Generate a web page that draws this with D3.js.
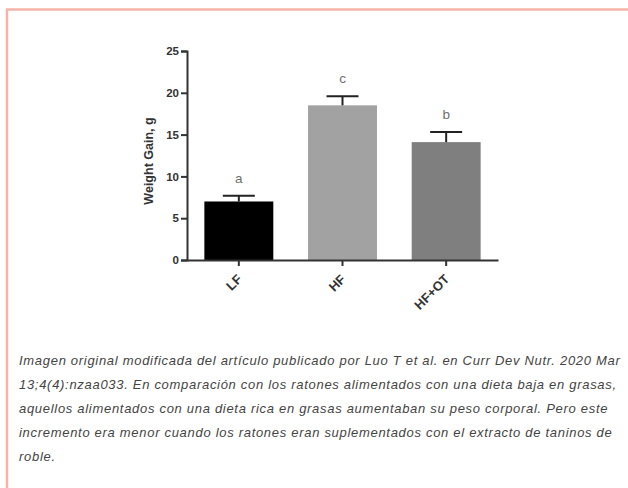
<!DOCTYPE html>
<html>
<head>
<meta charset="utf-8">
<script src="https://cdn.jsdelivr.net/npm/d3@7"></script>
<style>
  body { margin: 0; background: #fff; }
  svg { display: block; }
</style>
</head>
<body>
<div id="chart"></div>
<script>
    // data
    var groups = ["LF", "HF", "HF+OT"];
    var means = [7.0, 18.5, 14.1];
    var errors = [0.7, 1.1, 1.2];
    var letters = ["a", "c", "b"];
    var barColors = ["#000000", "#a2a2a2", "#7f7f7f"];
    var yTicks = [0, 5, 10, 15, 20, 25];
    var caption = [
        "Imagen original modificada del artículo publicado por Luo T et al. en Curr Dev Nutr. 2020 Mar",
        "13;4(4):nzaa033. En comparación con los ratones alimentados con una dieta baja en grasas,",
        "aquellos alimentados con una dieta rica en grasas aumentaban su peso corporal. Pero este",
        "incremento era menor cuando los ratones eran suplementados con el extracto de taninos de",
        "roble."
    ];

    var width = 628,
        height = 488;
    var font = "Liberation Sans, Arial, sans-serif";

    var svg = d3.select("#chart")
        .append("svg")
        .attr("width", width)
        .attr("height", height);

    // pink frame (top and left edge)
    svg.append("path")
        .attr("d", "M7," + height + "V9.5H" + width)
        .attr("fill", "none")
        .attr("stroke", "#f6b4a9")
        .attr("stroke-width", 2.5);

    var x = d3.scaleBand()
        .domain(groups)
        .range([187, 498])
        .paddingInner(0.335)
        .paddingOuter(0.1675);

    var y = d3.scaleLinear()
        .domain([0, 25])
        .range([260, 51]);

    var data = groups.map(function (g, i) {
        return { name: g, mean: means[i], err: errors[i], letter: letters[i], color: barColors[i] };
    });

    function cx(d) { return x(d.name) + x.bandwidth() / 2; }

    // bars
    svg.selectAll("rect.bar")
        .data(data)
        .enter().append("rect")
        .attr("class", "bar")
        .attr("x", function (d) { return x(d.name); })
        .attr("y", function (d) { return y(d.mean); })
        .attr("width", x.bandwidth())
        .attr("height", function (d) { return y(0) - y(d.mean); })
        .attr("fill", function (d) { return d.color; });

    // error bars (upper only)
    var eb = svg.selectAll("g.err")
        .data(data)
        .enter().append("g")
        .attr("class", "err")
        .attr("stroke", "#222")
        .attr("stroke-width", 2);
    eb.append("line")
        .attr("x1", cx)
        .attr("x2", cx)
        .attr("y1", function (d) { return y(d.mean); })
        .attr("y2", function (d) { return y(d.mean + d.err); });
    eb.append("line")
        .attr("x1", function (d) { return cx(d) - 16; })
        .attr("x2", function (d) { return cx(d) + 16; })
        .attr("y1", function (d) { return y(d.mean + d.err); })
        .attr("y2", function (d) { return y(d.mean + d.err); });

    // significance letters
    svg.selectAll("text.letter")
        .data(data)
        .enter().append("text")
        .attr("class", "letter")
        .attr("x", cx)
        .attr("y", function (d) { return y(d.mean + d.err) - 13; })
        .attr("text-anchor", "middle")
        .attr("font-family", font)
        .attr("font-size", 13.5)
        .attr("fill", "#707070")
        .text(function (d) { return d.letter; });

    // y axis
    var yAxis = svg.append("g")
        .attr("transform", "translate(187,0)")
        .call(d3.axisLeft(y).tickValues(yTicks).tickSize(6).tickPadding(2));
    yAxis.select(".domain").attr("stroke", "#333").attr("stroke-width", 2);
    yAxis.selectAll(".tick line").attr("stroke", "#333").attr("stroke-width", 2);
    yAxis.selectAll(".tick text")
        .attr("font-family", font)
        .attr("font-size", 11.5)
        .attr("font-weight", "bold")
        .attr("fill", "#333");

    // x axis
    var xAxis = svg.append("g")
        .attr("transform", "translate(0,260)")
        .call(d3.axisBottom(x).tickSize(6).tickSizeOuter(0));
    xAxis.select(".domain").attr("stroke", "#333").attr("stroke-width", 2);
    xAxis.selectAll(".tick line").attr("stroke", "#333").attr("stroke-width", 2);
    xAxis.selectAll(".tick text")
        .attr("font-family", font)
        .attr("font-size", 13)
        .attr("font-weight", "bold")
        .attr("fill", "#333")
        .attr("text-anchor", "end")
        .attr("x", 0)
        .attr("y", 0)
        .attr("dy", null)
        .attr("transform", "translate(4,20) rotate(-45)");

    // y axis title
    svg.append("text")
        .attr("transform", "translate(153,161) rotate(-90)")
        .attr("text-anchor", "middle")
        .attr("font-family", font)
        .attr("font-size", 12.5)
        .attr("font-weight", "bold")
        .attr("fill", "#333")
        .text("Weight Gain, g");

    // caption
    svg.append("g")
        .selectAll("text")
        .data(caption)
        .enter().append("text")
        .attr("x", 19)
        .attr("y", function (d, i) { return 365 + i * 24; })
        .attr("font-family", font)
        .attr("font-size", 13)
        .attr("font-style", "italic")
        .attr("letter-spacing", 0.7)
        .attr("fill", "#444")
        .text(function (d) { return d; });
</script>
</body>
</html>
